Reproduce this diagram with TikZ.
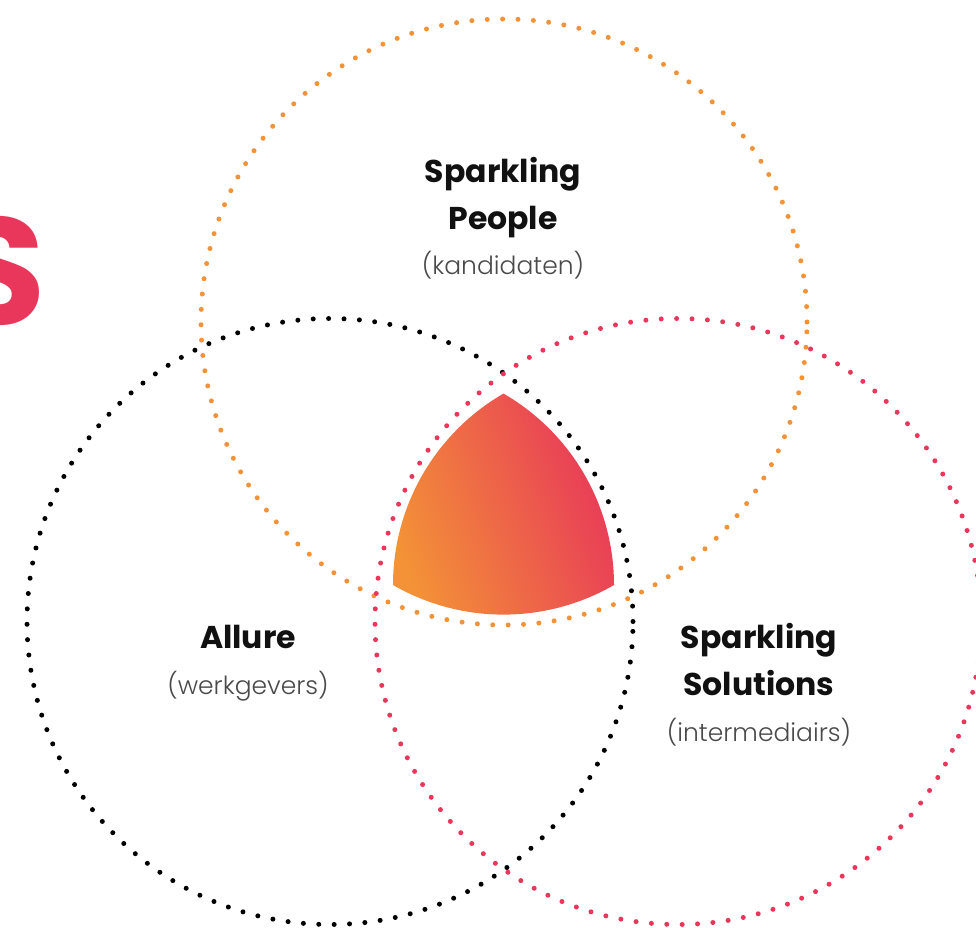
\documentclass[tikz,border=0pt]{standalone}
\usepackage{fontspec}
\setmainfont{Poppins}
\newfontfamily\lightfont{Poppins Light}
\usetikzlibrary{shadings}
\definecolor{sporange}{HTML}{F39237}
\definecolor{spred}{HTML}{E8375A}
\definecolor{spgray}{HTML}{4A4A4A}
\definecolor{spblack}{HTML}{111111}
\tikzset{
  dotring/.style={line width=5pt, line cap=round, dash pattern=on 0pt off 15.4pt},
  titletext/.style={font=\fontsize{31.5}{36}\selectfont\bfseries, text=spblack, inner sep=0pt, anchor=base},
  subtext/.style={font=\lightfont\fontsize{25}{28}\selectfont, text=spgray, inner sep=0pt, anchor=base},
}
\begin{document}
\begin{tikzpicture}[x=1pt,y=1pt]
\useasboundingbox (0,0) rectangle (976,927);
\clip (0,0) rectangle (976,927);
% big partial letter
\node[inner sep=0pt, anchor=base east, text=spred, font=\fontsize{152}{160}\selectfont\bfseries] (bigs) at (46,602) {S};
% gradient Reuleaux triangle
\coordinate (tl) at (393,342);
\coordinate (tr) at (614,342);
\coordinate (tt) at (503.5,535.4);
\shade[left color=sporange, right color=spred, shading angle=110]
  (tl) arc[start angle=180, end angle=120, radius=221]
       arc[start angle=60, end angle=0, radius=221]
       arc[start angle=-60, end angle=-120, radius=221] -- cycle;
% circles
\node[circle, minimum size=606pt, inner sep=0pt] (people) at (504,605) {};
\node[circle, minimum size=606pt, inner sep=0pt] (allure) at (330,305.5) {};
\node[circle, minimum size=606pt, inner sep=0pt] (solutions) at (678,305.5) {};
\draw[dotring, sporange] (people) circle[radius=303];
\draw[dotring, black] (allure) circle[radius=303];
\draw[dotring, spred] (solutions) circle[radius=303];
% labels
\node[titletext] (p1) at (503,744) {Sparkling};
\node[titletext] (p2) at (503,697) {People};
\node[subtext] (p3) at (503,652) {(kandidaten)};
\node[titletext] (a1) at (248,279) {Allure};
\node[subtext] (a2) at (248,233) {(werkgevers)};
\node[titletext] (s1) at (759,279) {Sparkling};
\node[titletext] (s2) at (759,232) {Solutions};
\node[subtext] (s3) at (759,186) {(intermediairs)};
\end{tikzpicture}
\end{document}
